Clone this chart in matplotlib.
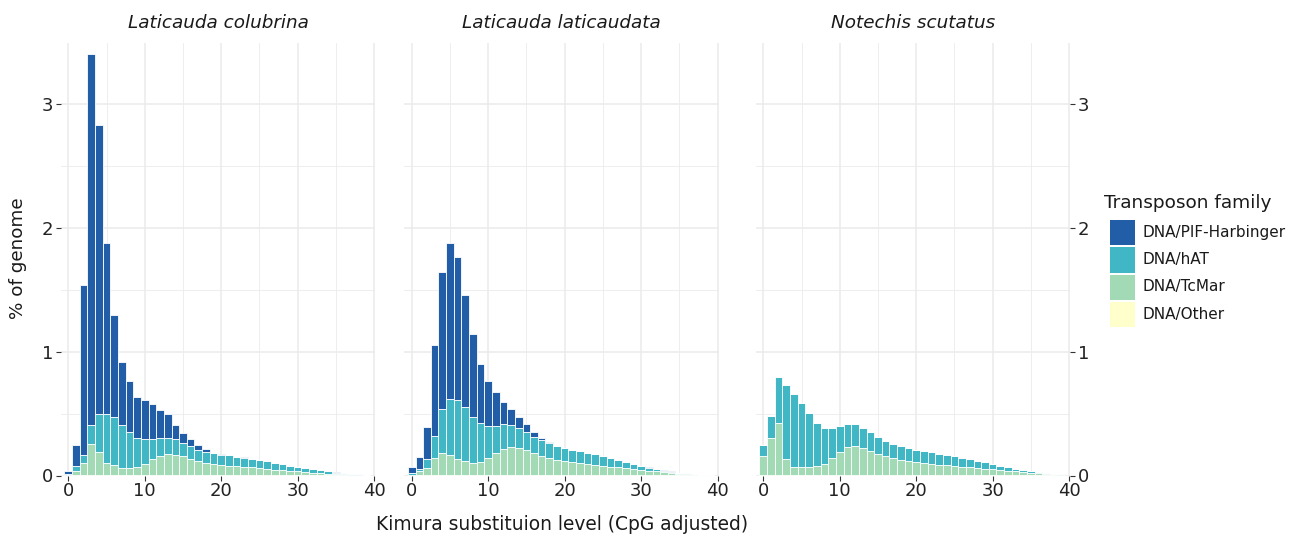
import matplotlib
matplotlib.use("Agg")
import matplotlib.pyplot as plt
from matplotlib.patches import Rectangle
import numpy as np

# ---------------- data ----------------
bins = list(range(40))
species = ["Laticauda colubrina", "Laticauda laticaudata", "Notechis scutatus"]
families = ["DNA/PIF-Harbinger", "DNA/hAT", "DNA/TcMar", "DNA/Other"]
colors = ["#225EA8", "#41B6C4", "#A1DAB4", "#FFFFCC"]

# Laticauda colubrina: stacked values (% of genome)
colubrina_tcmar = [0.004, 0.037, 0.097, 0.254, 0.187, 0.097, 0.078, 0.057, 0.057, 0.065,
                   0.092, 0.127, 0.151, 0.168, 0.165, 0.151, 0.132, 0.114, 0.097, 0.086,
                   0.078, 0.073, 0.070, 0.067, 0.062, 0.057, 0.051, 0.043, 0.040, 0.035,
                   0.030, 0.024, 0.019, 0.016, 0.013, 0.011, 0.009, 0.006, 0.004, 0.002]
colubrina_hat = [0.006, 0.033, 0.063, 0.149, 0.306, 0.396, 0.393, 0.346, 0.292, 0.238,
                 0.198, 0.163, 0.152, 0.135, 0.125, 0.112, 0.101, 0.092, 0.092, 0.091,
                 0.087, 0.087, 0.076, 0.074, 0.068, 0.065, 0.060, 0.054, 0.046, 0.041,
                 0.035, 0.030, 0.027, 0.022, 0.017, 0.010, 0.008, 0.006, 0.006, 0.002]
colubrina_pif = [0.023, 0.171, 1.372, 2.999, 2.336, 1.377, 0.823, 0.508, 0.410, 0.329,
                 0.315, 0.283, 0.221, 0.191, 0.112, 0.080, 0.056, 0.040, 0.019, 0.005,
                 0.003, 0.002, 0.002, 0.002, 0.002, 0.001, 0.001, 0.001, 0.001, 0.001,
                 0.001, 0.001, 0.001, 0.001, 0.001, 0.001, 0.001, 0.000, 0.000, 0.000]
colubrina_other = [0.002, 0.003, 0.003, 0.003, 0.003, 0.003, 0.003, 0.003, 0.003, 0.003,
                   0.003, 0.003, 0.003, 0.003, 0.003, 0.003, 0.003, 0.003, 0.003, 0.003,
                   0.003, 0.003, 0.003, 0.003, 0.003, 0.003, 0.003, 0.003, 0.003, 0.003,
                   0.003, 0.003, 0.003, 0.003, 0.003, 0.003, 0.002, 0.002, 0.001, 0.001]

# Laticauda laticaudata
laticaudata_tcmar = [0.005, 0.030, 0.059, 0.138, 0.181, 0.160, 0.133, 0.111, 0.097, 0.105,
                     0.135, 0.179, 0.208, 0.225, 0.217, 0.200, 0.181, 0.154, 0.135, 0.122,
                     0.111, 0.103, 0.097, 0.089, 0.081, 0.076, 0.067, 0.062, 0.054, 0.048,
                     0.040, 0.035, 0.030, 0.024, 0.019, 0.013, 0.011, 0.009, 0.004, 0.002]
laticaudata_hat = [0.010, 0.021, 0.068, 0.179, 0.355, 0.457, 0.474, 0.442, 0.369, 0.312,
                   0.260, 0.216, 0.201, 0.179, 0.165, 0.149, 0.125, 0.128, 0.128, 0.114,
                   0.106, 0.101, 0.096, 0.090, 0.087, 0.079, 0.072, 0.061, 0.053, 0.043,
                   0.035, 0.026, 0.017, 0.013, 0.010, 0.007, 0.004, 0.003, 0.003, 0.002]
laticaudata_pif = [0.050, 0.095, 0.263, 0.731, 1.101, 1.258, 1.157, 0.902, 0.669, 0.482,
                   0.361, 0.274, 0.184, 0.132, 0.087, 0.065, 0.046, 0.019, 0.008, 0.003,
                   0.002, 0.002, 0.002, 0.002, 0.002, 0.002, 0.001, 0.001, 0.001, 0.001,
                   0.001, 0.001, 0.001, 0.001, 0.001, 0.001, 0.001, 0.000, 0.000, 0.000]
laticaudata_other = [0.003, 0.003, 0.003, 0.003, 0.003, 0.003, 0.003, 0.003, 0.003, 0.003,
                     0.003, 0.003, 0.003, 0.003, 0.003, 0.003, 0.003, 0.003, 0.003, 0.003,
                     0.003, 0.003, 0.003, 0.003, 0.003, 0.003, 0.003, 0.003, 0.003, 0.003,
                     0.003, 0.003, 0.003, 0.003, 0.003, 0.003, 0.003, 0.002, 0.001, 0.001]

# Notechis scutatus
notechis_tcmar = [0.151, 0.303, 0.422, 0.130, 0.065, 0.062, 0.062, 0.070, 0.092, 0.138,
                  0.187, 0.225, 0.233, 0.219, 0.195, 0.173, 0.151, 0.135, 0.119, 0.111,
                  0.103, 0.095, 0.089, 0.084, 0.078, 0.073, 0.067, 0.062, 0.057, 0.051,
                  0.046, 0.040, 0.035, 0.030, 0.024, 0.019, 0.016, 0.013, 0.009, 0.006]
notechis_hat = [0.090, 0.174, 0.369, 0.596, 0.591, 0.523, 0.442, 0.352, 0.287, 0.241,
                0.208, 0.189, 0.176, 0.163, 0.152, 0.136, 0.128, 0.119, 0.116, 0.108,
                0.103, 0.102, 0.098, 0.089, 0.087, 0.078, 0.074, 0.065, 0.059, 0.052,
                0.043, 0.036, 0.027, 0.021, 0.016, 0.013, 0.008, 0.006, 0.005, 0.003]
notechis_pif = [0.0] * 40
notechis_other = [0.003, 0.003, 0.003, 0.003, 0.003, 0.003, 0.003, 0.003, 0.003, 0.003,
                  0.003, 0.003, 0.003, 0.003, 0.003, 0.003, 0.003, 0.003, 0.003, 0.003,
                  0.003, 0.003, 0.003, 0.003, 0.003, 0.003, 0.003, 0.003, 0.003, 0.003,
                  0.003, 0.003, 0.003, 0.003, 0.003, 0.003, 0.003, 0.002, 0.002, 0.002]

panels = [
    [colubrina_pif, colubrina_hat, colubrina_tcmar, colubrina_other],
    [laticaudata_pif, laticaudata_hat, laticaudata_tcmar, laticaudata_other],
    [notechis_pif, notechis_hat, notechis_tcmar, notechis_other],
]

x_ticks = [0, 10, 20, 30, 40]
y_ticks = [0, 1, 2, 3]

# ---------------- figure ----------------
W, H = 1300, 542
fig = plt.figure(figsize=(13, 5.42), dpi=100)
fig.patch.set_facecolor("white")

unit = 7.645
xmin, xmax = -1.0, 40.15
zero_px = [68.3, 411.7, 763.3]
bottom_px, top_px = 475.5, 43
ymax = 3.49
grid_col = "#EBEBEB"
txt_col = "#222222"
tick_fs = 13

axes = []
for k in range(3):
    left = zero_px[k] + xmin * unit
    width = (xmax - xmin) * unit
    ax = fig.add_axes([left / W, 1 - bottom_px / H, width / W, (bottom_px - top_px) / H])
    axes.append(ax)
    ax.set_xlim(xmin, xmax)
    ax.set_ylim(0, ymax)
    for s in ax.spines.values():
        s.set_visible(False)
    # grid
    for gx in np.arange(0, 41, 5):
        ax.axvline(gx, color=grid_col, lw=1.1 if gx % 10 == 0 else 0.6, zorder=0)
    for gy in np.arange(0, 3.6, 0.5):
        ax.axhline(gy, color=grid_col, lw=1.1 if gy % 1 == 0 else 0.6, zorder=0)

    # stacked bars: Other at bottom, then TcMar, hAT, PIF-Harbinger on top
    order = [3, 2, 1, 0]
    base = np.zeros(len(bins))
    for f in order:
        vals = np.array(panels[k][f])
        ax.bar(bins, vals, bottom=base, width=1.0, color=colors[f],
               edgecolor="white", linewidth=0.6, zorder=2)
        base = base + vals

    ax.set_xticks(x_ticks)
    ax.set_xticklabels([str(t) for t in x_ticks], fontsize=tick_fs, color=txt_col)
    ax.tick_params(axis="x", length=3.5, width=0.8, color="#333333", pad=1.5)
    ax.set_yticks(y_ticks)
    if k == 0:
        ax.set_yticklabels([str(t) for t in y_ticks], fontsize=tick_fs, color=txt_col)
        ax.tick_params(axis="y", length=3.5, width=0.8, color="#333333", pad=2)
    elif k == 2:
        ax.yaxis.tick_right()
        ax.set_yticklabels([str(t) for t in y_ticks], fontsize=tick_fs, color=txt_col)
        ax.tick_params(axis="y", length=3.5, width=0.8, color="#333333", pad=2)
    else:
        ax.tick_params(axis="y", length=0, labelleft=False)
    ax.set_title(species[k], fontsize=13.2, fontstyle="italic", color="#1a1a1a", pad=11)

fig.text(562 / W, 1 - 525 / H, "Kimura substituion level (CpG adjusted)",
         ha="center", va="center", fontsize=13.4, color="#1a1a1a")
fig.text(18 / W, 1 - 258 / H, "% of genome", ha="center", va="center",
         rotation=90, fontsize=13.2, color="#1a1a1a")

# ---------------- legend (drawn in figure pixel layout) ----------------
fig.text(1104 / W, 1 - 203 / H, "Transposon family", ha="left", va="center",
         fontsize=13.3, color="#1a1a1a")
key_x, key_w, key_h = 1110, 25, 25
key_tops = [220, 247.5, 274.5, 301.5]
for c, lab, kt in zip(colors, families, key_tops):
    fig.add_artist(Rectangle((key_x / W, 1 - (kt + key_h) / H), key_w / W, key_h / H,
                             transform=fig.transFigure, facecolor=c, edgecolor="none"))
    fig.text(1142 / W, 1 - (kt + key_h / 2) / H, lab, ha="left", va="center",
             fontsize=11, color="#1a1a1a")

fig.savefig("out.png", dpi=100, facecolor="white")
